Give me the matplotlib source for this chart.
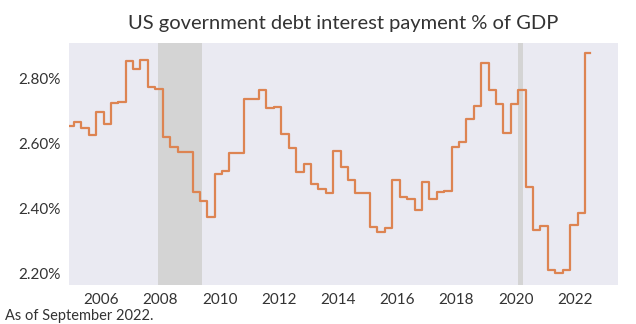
import pandas as pd
import matplotlib
matplotlib.use("Agg")
import matplotlib.pyplot as plt
import matplotlib.dates as mdates
from matplotlib.ticker import FuncFormatter

plt.rcParams["font.family"] = ["Lato", "DejaVu Sans"]

# quarterly interest payment as % of GDP (periods start Nov/Feb/May/Aug)
interest_pct = [
    2.653, 2.666, 2.648, 2.626, 2.695, 2.660, 2.725, 2.727,
    2.853, 2.830, 2.856, 2.774, 2.767, 2.620, 2.590, 2.572,
    2.574, 2.451, 2.422, 2.372, 2.506, 2.515, 2.571, 2.569,
    2.736, 2.737, 2.764, 2.708, 2.713, 2.628, 2.585, 2.511,
    2.535, 2.475, 2.458, 2.446, 2.576, 2.528, 2.487, 2.446,
    2.446, 2.342, 2.326, 2.338, 2.487, 2.436, 2.428, 2.395,
    2.482, 2.428, 2.451, 2.453, 2.590, 2.603, 2.674, 2.716,
    2.846, 2.764, 2.721, 2.631, 2.721, 2.764, 2.466, 2.333,
    2.345, 2.210, 2.200, 2.210, 2.349, 2.386, 2.877,
]
first_period = "2004-11-01"
last_month = "2022-07-01"

recessions = [("2007-12-01", "2009-06-01"), ("2020-02-01", "2020-04-01")]

dates = list(pd.date_range(first_period, periods=len(interest_pct), freq="3MS"))
dates.append(pd.Timestamp(last_month))
values = interest_pct + [interest_pct[-1]]

fig = plt.figure(figsize=(6.36, 3.24), dpi=100)
ax = fig.add_axes([0.1085, 0.1204, 0.8632, 0.746])
ax.set_facecolor("#eaeaf2")

for start, end in recessions:
    ax.axvspan(pd.Timestamp(start), pd.Timestamp(end), color="#d4d4d4", lw=0, zorder=1)

ax.plot(dates, values, drawstyle="steps-post", color="#dd8452", lw=1.6, zorder=2)

ax.set_xlim(pd.Timestamp("2004-12-01"), pd.Timestamp("2023-06-15"))
ax.set_ylim(2.164, 2.908)
ax.set_yticks([2.2, 2.4, 2.6, 2.8])
ax.yaxis.set_major_formatter(FuncFormatter(lambda v, p: "%.2f%%" % v))
ax.xaxis.set_major_locator(mdates.YearLocator(2))
ax.xaxis.set_major_formatter(mdates.DateFormatter("%Y"))
ax.tick_params(length=0, labelsize=11, labelcolor="#333333", pad=6)

for s in ax.spines.values():
    s.set_visible(False)

ax.set_title("US government debt interest payment % of GDP", fontsize=14.5,
             color="#333333", pad=10)
fig.text(0.008, 0.012, "As of September 2022.", fontsize=10.5, color="#333333")

fig.savefig("out.png", dpi=100)
